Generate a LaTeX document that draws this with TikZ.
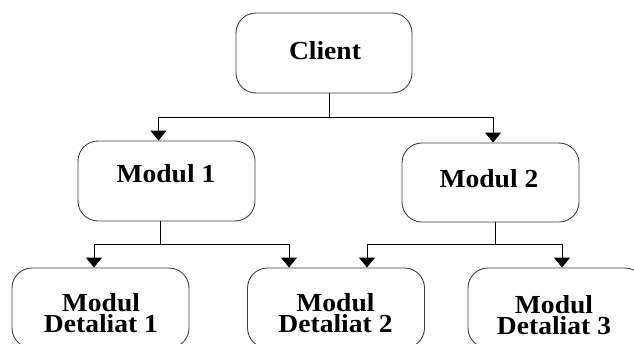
\documentclass[tikz,border=0pt]{standalone}
\usepackage{fontspec}
\usetikzlibrary{arrows.meta}
\newfontfamily\labfont{Liberation Serif}[FakeStretch=1.06]
\begin{document}
\begin{tikzpicture}[x=1pt,y=-1pt,
  box/.style={draw=black!75, line width=0.9pt, rounded corners=20pt, inner sep=0pt},
  lab/.style={font=\labfont\bfseries\fontsize{26}{21}\selectfont, align=center, inner sep=0pt},
  wire/.style={draw=black, line width=1pt},
  arr/.style={wire, -{Triangle[width=16pt,length=10pt]}}]
\useasboundingbox (0,0) rectangle (634,343);
\clip (0,0) rectangle (634,343);
% boxes
\node[box, minimum width=176pt, minimum height=80pt] (client) at (324,53) {};
\node[box, minimum width=177pt, minimum height=80pt] (m1) at (166.5,181) {};
\node[box, minimum width=177pt, minimum height=79pt] (m2) at (490.5,182.5) {};
\node[box, minimum width=177pt, minimum height=80pt] (d1) at (100.5,308) {};
\node[box, minimum width=177pt, minimum height=80pt] (d2) at (336,308) {};
\node[box, minimum width=177pt, minimum height=80pt] (d3) at (556.5,308) {};
% labels
\node[lab] (tclient) at (325,51) {Client};
\node[lab] (tm1) at (166,174) {Modul 1};
\node[lab] (tm2) at (489,179) {Modul 2};
\node[lab] (td1) at (101,313) {Modul\\Detaliat 1};
\node[lab] (td2) at (335.5,313) {Modul\\Detaliat 2};
\node[lab] (td3) at (554,315) {Modul\\Detaliat 3};
% junctions and arrow columns
\coordinate (j1) at (329,117);
\coordinate (j2) at (160,244);
\coordinate (j3) at (495,244);
\coordinate (a1) at (158.5,0);
\coordinate (a2) at (493,0);
\coordinate (a3) at (94,0);
\coordinate (a4) at (289,0);
\coordinate (a5) at (367,0);
\coordinate (a6) at (562,0);
% connectors
\draw[wire] (j1 |- client.south) -- (j1);
\draw[arr] (j1) -| (a1 |- m1.north);
\draw[arr] (j1) -| (a2 |- m2.north);
\draw[wire] (j2 |- m1.south) -- (j2);
\draw[arr] (j2) -| (a3 |- d1.north);
\draw[arr] (j2) -| (a4 |- d2.north);
\draw[wire] (j3 |- m2.south) -- (j3);
\draw[arr] (j3) -| (a5 |- d2.north);
\draw[arr] (j3) -| (a6 |- d3.north);
\end{tikzpicture}
\end{document}
